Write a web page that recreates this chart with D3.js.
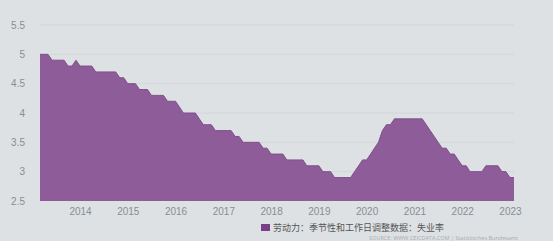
<!DOCTYPE html>
<html>
<head>
<meta charset="utf-8">
<script src="https://cdn.jsdelivr.net/npm/d3@7"></script>
<style>
  body { margin: 0; background: #dde1e4; }
  svg { display: block; }
</style>
</head>
<body>
<div id="chart"></div>
<script>
// monthly unemployment rate, Mar 2013 .. Feb 2023
var startMonth = "2013-03";
var rates = [
  5.0, 5.0, 5.0, 4.9, 4.9, 4.9, 4.9, 4.8, 4.8, 4.9,
  4.8, 4.8, 4.8, 4.8, 4.7, 4.7, 4.7, 4.7, 4.7, 4.7,
  4.6, 4.6, 4.5, 4.5, 4.5, 4.4, 4.4, 4.4, 4.3, 4.3,
  4.3, 4.3, 4.2, 4.2, 4.2, 4.1, 4.0, 4.0, 4.0, 4.0,
  3.9, 3.8, 3.8, 3.8, 3.7, 3.7, 3.7, 3.7, 3.7, 3.6,
  3.6, 3.5, 3.5, 3.5, 3.5, 3.5, 3.4, 3.4, 3.3, 3.3,
  3.3, 3.3, 3.2, 3.2, 3.2, 3.2, 3.2, 3.1, 3.1, 3.1,
  3.1, 3.0, 3.0, 3.0, 2.9, 2.9, 2.9, 2.9, 2.9, 3.0,
  3.1, 3.2, 3.2, 3.3, 3.4, 3.5, 3.7, 3.8, 3.8, 3.9,
  3.9, 3.9, 3.9, 3.9, 3.9, 3.9, 3.9, 3.8, 3.7, 3.6,
  3.5, 3.4, 3.4, 3.3, 3.3, 3.2, 3.1, 3.1, 3.0, 3.0,
  3.0, 3.0, 3.1, 3.1, 3.1, 3.1, 3.0, 3.0, 2.9, 2.9
];
var yTicks = [2.5, 3, 3.5, 4, 4.5, 5, 5.5];
var xTickYears = [2014, 2015, 2016, 2017, 2018, 2019, 2020, 2021, 2022, 2023];
var seriesName = "劳动力：季节性和工作日调整数据：失业率";
var sourceText = "SOURCE: WWW.CEICDATA.COM | Statistisches Bundesamt";

var W = 553, H = 241;
var margin = {top: 25, right: 39, bottom: 40, left: 40};

var svg = d3.select("#chart").append("svg")
  .attr("width", W).attr("height", H)
  .style("font-family", "'Open Sans', 'Noto Sans', 'Noto Sans CJK SC', sans-serif");

var t0 = d3.timeParse("%Y-%m")(startMonth);
var data = rates.map(function(v, i) {
  return {date: d3.timeMonth.offset(t0, i), value: v};
});

var x = d3.scaleTime()
  .domain(d3.extent(data, d => d.date))
  .range([margin.left, W - margin.right]);
var y = d3.scaleLinear()
  .domain([2.5, 5.5])
  .range([H - margin.bottom, margin.top]);

// grid
svg.append("g")
  .selectAll("line")
  .data(yTicks.slice(1))
  .join("line")
    .attr("x1", margin.left).attr("x2", W - margin.right)
    .attr("y1", d => y(d)).attr("y2", d => y(d))
    .attr("stroke", "#d2d6d9").attr("stroke-width", 1);

// area
var area = d3.area()
  .x(d => x(d.date))
  .y0(y(2.5))
  .y1(d => y(d.value));

svg.append("path")
  .datum(data)
  .attr("fill", "#8e5c99")
  .attr("d", area);

svg.append("path")
  .datum(data)
  .attr("fill", "none")
  .attr("stroke", "#7f4f8a")
  .attr("stroke-width", 1)
  .attr("d", d3.line().x(d => x(d.date)).y(d => y(d.value)));

// y axis
var yAxis = svg.append("g")
  .attr("transform", "translate(" + (margin.left - 12) + ",0)")
  .call(d3.axisLeft(y).tickValues(yTicks).tickSize(0).tickFormat(d3.format("")));
yAxis.select(".domain").remove();
yAxis.selectAll("text")
  .attr("fill", "#8a8d90").attr("font-size", 10).attr("font-family", "inherit");

// x axis
var xAxis = svg.append("g")
  .attr("transform", "translate(0," + (H - margin.bottom + 4) + ")")
  .call(d3.axisBottom(x)
    .tickValues(xTickYears.map(yr => new Date(yr, 0, 1)))
    .tickSize(0)
    .tickFormat(d3.timeFormat("%Y")));
xAxis.select(".domain").remove();
xAxis.selectAll("text")
  .attr("fill", "#8a8d90").attr("font-size", 10).attr("font-family", "inherit");

// legend
var lg = svg.append("g").attr("transform", "translate(261,224)");
lg.append("rect").attr("width", 9).attr("height", 7).attr("fill", "#7a3f86");
lg.append("text")
  .attr("x", 12).attr("y", 7)
  .attr("font-size", 9).attr("fill", "#555")
  .text(seriesName);

svg.append("text")
  .attr("x", 518).attr("y", 240)
  .attr("text-anchor", "end")
  .attr("font-size", 5.5).attr("fill", "#a8abae")
  .text(sourceText);
</script>
</body>
</html>
